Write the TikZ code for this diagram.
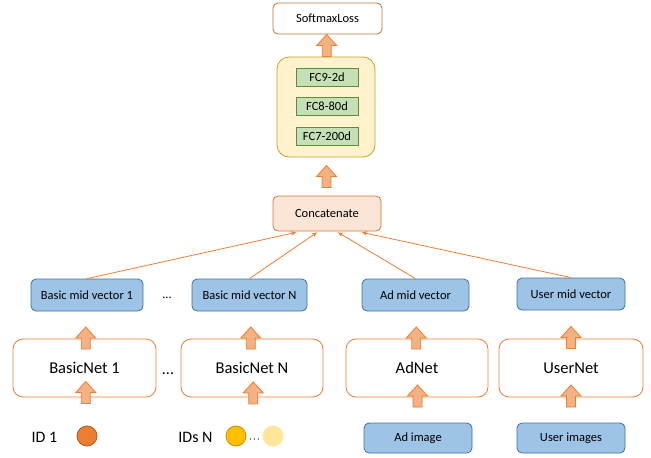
\documentclass[tikz,border=0pt]{standalone}
\usepackage{fontspec}
\setmainfont{Carlito}
\usetikzlibrary{calc,arrows.meta}
\definecolor{org}{HTML}{ED7D31}
\definecolor{blkfill}{HTML}{F4B183}
\definecolor{bluef}{HTML}{9DC3E6}
\definecolor{blued}{HTML}{41719C}
\definecolor{greenf}{HTML}{C5E0B4}
\definecolor{greend}{HTML}{5E8C3F}
\definecolor{yelf}{HTML}{FFF2CC}
\definecolor{yeld}{HTML}{C9A227}
\definecolor{catf}{HTML}{FBE5D6}
\definecolor{catd}{HTML}{D9733A}
\definecolor{smd}{HTML}{C0703C}
\definecolor{idone}{HTML}{ED7D31}
\definecolor{idoned}{HTML}{AE5A21}
\definecolor{idtwo}{HTML}{FFC000}
\definecolor{idtwod}{HTML}{BF9000}
\definecolor{idthree}{HTML}{FFE699}
\tikzset{
  midvec/.style={draw=blued, fill=bluef, rounded corners=5pt, line width=0.8pt, minimum height=32pt, inner sep=0pt, font=\fontsize{12.5}{14}\selectfont},
  netbox/.style={draw=org, fill=white, rounded corners=10pt, line width=0.8pt, minimum height=58pt, inner sep=0pt, font=\fontsize{16.5}{18}\selectfont},
  fcbox/.style={draw=greend, fill=greenf, line width=0.8pt, minimum width=62pt, minimum height=18pt, inner sep=0pt, font=\fontsize{12.5}{14}\selectfont},
  idcirc/.style={circle, minimum size=20pt, inner sep=0pt, line width=0.8pt},
  blk/.style={draw=org, fill=blkfill, line width=0.8pt, line join=miter},
  conn/.style={draw=org, line width=0.8pt, -{Stealth[length=5pt,width=4.5pt]}},
  lbl/.style={inner sep=0pt, font=\fontsize{16}{18}\selectfont},
  dotsn/.style={inner sep=0pt, anchor=base},
}
\newcommand\blkup[2]{%
  \path ($(#1.north)!0.5!(#2.south)$) coordinate (bm);
  \draw[blk] ($(bm)+(-4.5,11)$) -- ($(bm)+(-4.5,0)$) -- ($(bm)+(-10,0)$) -- ($(bm)+(0,-11)$) -- ($(bm)+(10,0)$) -- ($(bm)+(4.5,0)$) -- ($(bm)+(4.5,11)$) -- cycle;}
\begin{document}
\begin{tikzpicture}[x=1pt,y=-1pt]
\useasboundingbox (0,0) rectangle (651,458);
% top
\node[draw=smd, fill=white, rounded corners=5pt, line width=0.8pt, minimum width=109pt, minimum height=31pt, inner sep=0pt, font=\fontsize{12.5}{14}\selectfont] (sm) at (327.5,18.5) {SoftmaxLoss};
\node[draw=yeld, fill=yelf, rounded corners=12pt, line width=0.8pt, minimum width=98pt, minimum height=100pt, inner sep=0pt] (fc) at (326,107) {};
\node[fcbox] (fc9) at (327,77) {FC9-2d};
\node[fcbox] (fc8) at (327,106) {FC8-80d};
\node[fcbox] (fc7) at (327,136) {FC7-200d};
\node[draw=catd, fill=catf, rounded corners=5pt, line width=0.8pt, minimum width=108pt, minimum height=35pt, inner sep=0pt, font=\fontsize{12.5}{14}\selectfont] (cat) at (327,213.5) {Concatenate};
% mid vectors
\node[midvec, minimum width=112pt] (m1) at (87,295) {Basic mid vector 1};
\node[midvec, minimum width=115pt] (mn) at (249.5,295) {Basic mid vector N};
\node[midvec, minimum width=107pt] (ma) at (415.5,295) {Ad mid vector};
\node[midvec, minimum width=108pt] (mu) at (571,294) {User mid vector};
\node[dotsn, font=\fontsize{12.5}{14}\selectfont] (d1) at (167,298) {...};
% nets
\node[netbox, minimum width=143pt] (n1) at (84.5,368) {BasicNet 1};
\node[netbox, minimum width=142pt] (nn) at (252,368) {BasicNet N};
\node[netbox, minimum width=142pt] (na) at (417,368) {AdNet};
\node[netbox, minimum width=144pt] (nu) at (571,368) {UserNet};
\node[dotsn, font=\fontsize{16}{18}\selectfont] (d2) at (168,374) {...};
% inputs
\node[lbl] (t1) at (44.5,437) {ID 1};
\node[idcirc, draw=idoned, fill=idone] (c1) at (87,436) {};
\node[lbl] (tn) at (195.5,437) {IDs N};
\node[idcirc, draw=idtwod, fill=idtwo] (c2) at (236,436) {};
\node[idcirc, draw=idthree, fill=idthree] (c3) at (273,436) {};
\node[inner sep=0pt, minimum height=14pt, font=\fontsize{12.5}{14}\selectfont] (d3) at (254.5,440) {$\cdot\!\cdot\!\cdot$};
\node[midvec, minimum width=108pt, minimum height=30pt] (ia) at (418,438) {Ad image};
\node[midvec, minimum width=108pt, minimum height=30pt] (iu) at (571,438) {User images};
% block arrows
\blkup{fc}{sm}
\blkup{cat}{fc}
\blkup{m1}{n1}
\blkup{mn}{nn}
\blkup{ma}{na}
\blkup{mu}{nu}
\blkup{n1}{c1}
\blkup{nn}{d3}
\blkup{na}{ia}
\blkup{nu}{iu}
% connectors
\coordinate (k1) at ($(cat.south)+(-31,1)$);
\coordinate (k2) at ($(cat.south)+(-10,1)$);
\coordinate (k3) at ($(cat.south)+(11,1)$);
\coordinate (k4) at ($(cat.south)+(35,1)$);
\draw[conn] (m1.north) -- (k1);
\draw[conn] (mn.north) -- (k2);
\draw[conn] (ma.north) -- (k3);
\draw[conn] (mu.north) -- (k4);
\end{tikzpicture}
\end{document}
